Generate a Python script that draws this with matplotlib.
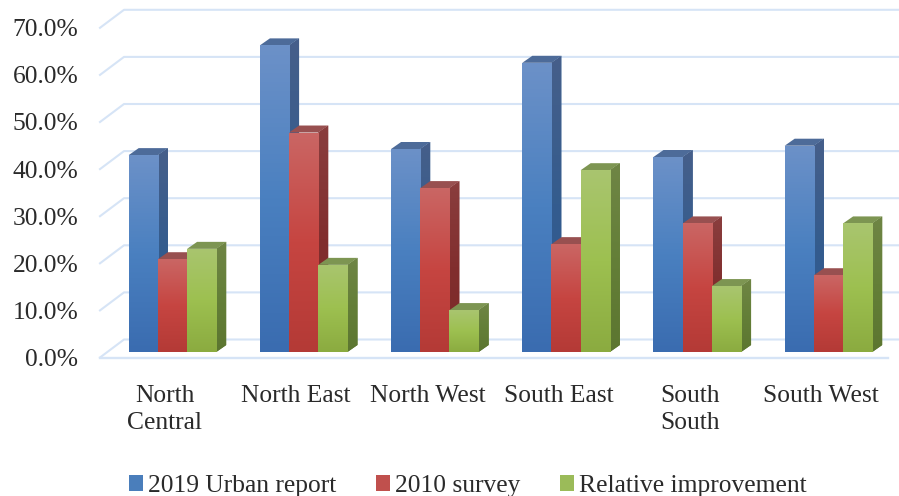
import numpy as np
from matplotlib import pyplot as plt
from matplotlib import transforms
from matplotlib.colors import LinearSegmentedColormap
from matplotlib.patches import Patch, Polygon

regions = ["North\nCentral", "North East", "North West", "South East", "South\nSouth", "South West"]
urban_2019 = [41.8, 65.1, 43.1, 61.4, 41.4, 43.8]
survey_2010 = [19.7, 46.6, 34.8, 22.9, 27.3, 16.3]
improvement = [21.9, 18.5, 8.9, 38.6, 14.0, 27.3]
series_names = ["2019 Urban report", "2010 survey", "Relative improvement"]
y_ticks = [0, 10, 20, 30, 40, 50, 60, 70]

W, H = 899, 496
PX_X = 131.2  # pixels per category
PX_Y = 4.71   # pixels per percent
BAR_W = 29.2 / PX_X
DEPTH_X = 10 / PX_X
DEPTH_Y = 7 / PX_Y
GRID = "#d6e4f6"
TEXT = "#2a2a2a"
FONT = 18.4

styles = [
    dict(front=["#6c91c8", "#4a80c0", "#3a6cb0"], side=["#465f8a", "#345c8e", "#2d5a94"], top="#4d6b99", key="#4a7ebb"),
    dict(front=["#ca6664", "#c64541", "#b43a36"], side=["#8a3e3e", "#812e2e", "#7c2a28"], top="#985050", key="#c0504d"),
    dict(front=["#a9c56f", "#9dc050", "#8bab40"], side=["#6f8545", "#647f38", "#5c7630"], top="#7d9552", key="#9bbb59"),
]

plt.rcParams["font.family"] = ["Liberation Serif", "DejaVu Serif"]
fig = plt.figure(figsize=(W / 100, H / 100), dpi=100)
ax = fig.add_axes([100 / W, (H - 352) / H, (W - 100) / W, 70 * PX_Y / H])
x_left = (100 - 172.5) / PX_X
x_right = (W - 172.5) / PX_X
ax.set_xlim(x_left, x_right)
ax.set_ylim(0, 70)
for s in ax.spines.values():
    s.set_visible(False)


def paint(patch, colors, x0, x1, y0, y1, z):
    cmap = LinearSegmentedColormap.from_list("g", colors)
    im = ax.imshow(np.linspace(0, 1, 128).reshape(-1, 1), cmap=cmap, aspect="auto",
                   extent=(x0, x1, y0, y1), zorder=z, interpolation="bilinear")
    im.set_clip_path(patch)


# back wall, left wall and floor
wall_back = 12.5 / PX_Y
wall_front = -5.5 / PX_Y
wall_x = x_left + 24 / PX_X
for v in y_ticks:
    ax.plot([x_left, wall_x, x_right], [v + wall_front, v + wall_back, v + wall_back],
            color=GRID, lw=1.5, clip_on=False, zorder=1)
ax.plot([x_left, (888 - 172.5) / PX_X], [wall_front, wall_front], color=GRID, lw=1.7, clip_on=False, zorder=1)

all_values = [urban_2019, survey_2010, improvement]
z = 2
for i in range(len(regions)):
    for k, values in enumerate(all_values):
        st = styles[k]
        val = values[i]
        x0 = i + (k - 1.5) * BAR_W
        x1 = x0 + BAR_W
        side_pts = [(x1, 0), (x1 + DEPTH_X, DEPTH_Y), (x1 + DEPTH_X, val + DEPTH_Y), (x1, val)]
        top_pts = [(x0, val), (x0 + DEPTH_X, val + DEPTH_Y), (x1 + DEPTH_X, val + DEPTH_Y), (x1, val)]
        side = Polygon(side_pts, closed=True, fc=st["side"][1], ec="none", zorder=z, clip_on=False)
        ax.add_patch(side)
        paint(side, st["side"], x1, x1 + DEPTH_X, 0, val + DEPTH_Y, z + 0.1)
        ax.add_patch(Polygon(top_pts, closed=True, fc=st["top"], ec="none", zorder=z + 0.2, clip_on=False))
        bar = ax.bar(x0, val, BAR_W, align="edge", color=st["front"][1], zorder=z + 0.3, clip_on=False)[0]
        paint(bar, st["front"], x0, x1, 0, val, z + 0.4)
        z += 1

ax.set_xlim(x_left, x_right)
ax.set_ylim(0, 70)

ax.set_yticks(y_ticks)
ax.set_yticklabels([f"{v:.1f}%" for v in y_ticks], fontsize=FONT, color=TEXT)
ax.set_xticks(range(len(regions)))
ax.set_xticklabels(regions, fontsize=FONT, color=TEXT, linespacing=1.27)
ax.tick_params(axis="both", length=0)
ax.tick_params(axis="y", pad=15.5)
ax.tick_params(axis="x", pad=24)

y_shift = transforms.ScaledTranslation(0, -5.5 / 100, fig.dpi_scale_trans)
for lab in ax.get_yticklabels():
    lab.set_transform(lab.get_transform() + y_shift)
x_shift = transforms.ScaledTranslation(-7.5 / 100, 0, fig.dpi_scale_trans)
for lab in ax.get_xticklabels():
    lab.set_transform(lab.get_transform() + x_shift)

handles = [Patch(fc=st["key"], ec="none") for st in styles]
fig.legend(handles, series_names, loc="lower left", bbox_to_anchor=(129 / W, -1 / H), ncol=3, frameon=False,
           fontsize=FONT, labelcolor=TEXT, handlelength=0.55, handleheight=0.55, handletextpad=0.2,
           columnspacing=1.55, borderpad=0, borderaxespad=0)

fig.savefig("out.png", dpi=100)
